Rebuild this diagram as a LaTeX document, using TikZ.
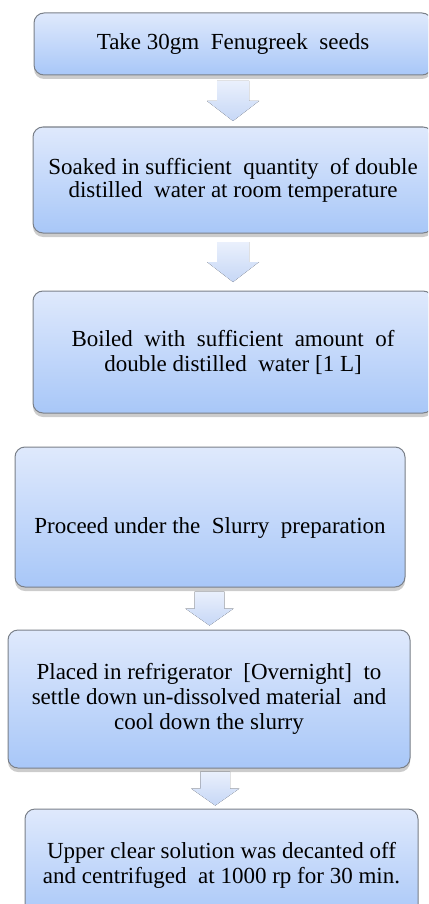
\documentclass[tikz,border=0pt]{standalone}
\usepackage{fontspec}
\setmainfont{Liberation Serif}
\usetikzlibrary{calc,shadows}
\definecolor{boxtop}{HTML}{DFE9FC}
\definecolor{boxbot}{HTML}{A8C7F8}
\definecolor{boxline}{HTML}{7A8089}
\definecolor{arrtop}{HTML}{EAF0FC}
\definecolor{arrbot}{HTML}{C6D7F6}
\begin{document}
\begin{tikzpicture}[x=0.5pt,y=0.5pt,
	stepbox/.style={draw=boxline,line width=0.5pt,rounded corners=5pt,top color=boxtop,bottom color=boxbot,
		drop shadow={shadow xshift=0pt,shadow yshift=-2pt,opacity=0.4},align=center,inner sep=0pt,
		font=\fontsize{11.5}{12.5}\selectfont},
	blockdown/.pic={\fill[top color=arrtop,bottom color=arrbot] (-16,20)--(16,20)--(16,0)--(26,0)--(0,-20)--(-26,0)--(-16,0)--cycle;}]
		\useasboundingbox (0,0) rectangle (428,-904);
		\clip (0,0) rectangle (428,-904);
		\node[stepbox,minimum width=199pt,minimum height=31pt] (b1) at (233,-44) {Take 30gm\ \ Fenugreek\ \ seeds};
		\node[stepbox,minimum width=200pt,minimum height=53pt,font=\fontsize{11.5}{11.5}\selectfont] (b2) at (233,-180) {Soaked in sufficient\ \ quantity\ \ of double\\distilled\ \ water at room temperature};
		\node[stepbox,minimum width=200pt,minimum height=61pt] (b3) at (233,-352) {Boiled\ \ with\ \ sufficient\ \ amount\ \ of\\double distilled\ \ water [1 L]};
		\node[stepbox,minimum width=195pt,minimum height=70pt] (b4) at (210,-517) {\raisebox{-8pt}[0pt][0pt]{Proceed under the\ \ Slurry\ \ preparation}};
		\node[stepbox,minimum width=201pt,minimum height=69pt] (b5) at (209,-699) {Placed in refrigerator\ \ [Overnight]\ \ to\\settle down un-dissolved material\ \ and\\cool down the slurry};
		\node[stepbox,minimum width=196.5pt,minimum height=56pt] (b6) at (221.5,-865) {Upper clear solution was decanted off\\and centrifuged\ \ at 1000 rp for 30 min.};
		\pic at ($(b1.south)!.5!(b2.north)$) {blockdown};
		\pic at ($(b2.south)!.5!(b3.north)$) {blockdown};
		\pic[yscale=.85,xscale=.93] at ($(b4.south)!.5!(b5.north)$) {blockdown};
		\pic[yscale=.85,xscale=.93] at ($(b5.south)!.5!(b6.north)$) {blockdown};
\end{tikzpicture}
\end{document}
